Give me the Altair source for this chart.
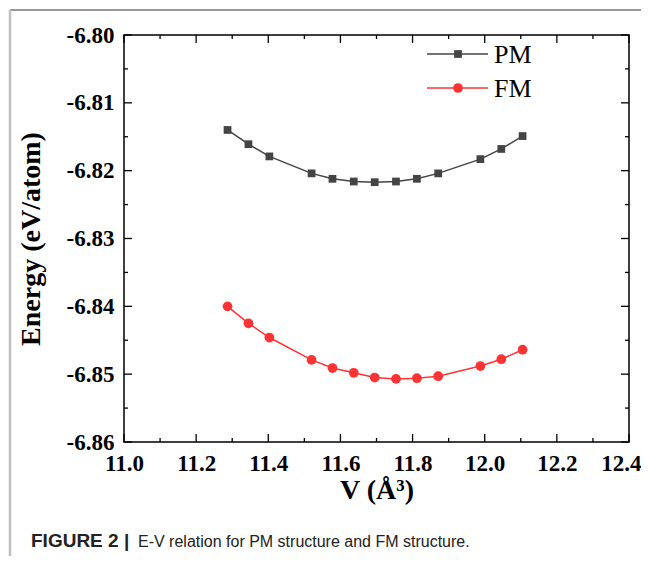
import altair as alt
import pandas as pd

# ---- data ----
V = [11.287, 11.345, 11.403, 11.520, 11.578, 11.637, 11.695, 11.754, 11.812, 11.871, 11.988, 12.046, 12.105]
E_PM = [-6.8140, -6.8161, -6.8179, -6.8204, -6.8212, -6.8216, -6.8217, -6.8216, -6.8212, -6.8204, -6.8183, -6.8168, -6.8149]
E_FM = [-6.8400, -6.8425, -6.8446, -6.8479, -6.8491, -6.8498, -6.8505, -6.8507, -6.8506, -6.8503, -6.8488, -6.8478, -6.8464]
SERIES = ["PM", "FM"]
COLORS = ["#444444", "#ff3333"]
SHAPES = ["square", "circle"]
X_MAJOR = [11.0, 11.2, 11.4, 11.6, 11.8, 12.0, 12.2, 12.4]
X_MINOR = [11.1, 11.3, 11.5, 11.7, 11.9, 12.1, 12.3]
Y_MAJOR = [-6.86, -6.85, -6.84, -6.83, -6.82, -6.81, -6.80]
Y_MINOR = [-6.855, -6.845, -6.835, -6.825, -6.815, -6.805]
X_TITLE = "V (Å³)"
Y_TITLE = "Energy (eV/atom)"
CAPTION_BOLD = "FIGURE 2 |"
CAPTION_TEXT = "E-V relation for PM structure and FM structure."

W, H = 505, 407
SERIF = "Liberation Serif"
SANS = "Liberation Sans"

df = pd.DataFrame({
    "V": V * 2,
    "E": E_PM + E_FM,
    "series": ["PM"] * len(V) + ["FM"] * len(V),
})

xs = alt.Scale(domain=[11.0, 12.4], nice=False, zero=False)
ys = alt.Scale(domain=[-6.86, -6.80], nice=False, zero=False)
cs = alt.Scale(domain=SERIES, range=COLORS)

last_x = "datum.value > 12.35"
x_axis = alt.Axis(values=X_MAJOR, format=".1f", ticks=False, domain=False, grid=False,
                  labelFont=SERIF, labelFontWeight="bold", labelFontSize=23, labelColor="black",
                  labelPadding=10, labelFlush=False,
                  labelAlign={"condition": {"test": last_x, "value": "right"}, "value": "center"},
                  labelOffset={"condition": {"test": last_x, "value": 12}, "value": 0},
                  title=X_TITLE, titleFont=SERIF, titleFontWeight="bold", titleFontSize=28,
                  titleColor="black", titlePadding=1)
y_axis = alt.Axis(values=Y_MAJOR, labelExpr="'-' + format(abs(datum.value), '.2f')",
                  ticks=False, domain=False, grid=False,
                  labelFont=SERIF, labelFontWeight="bold", labelFontSize=23, labelColor="black",
                  labelPadding=10, labelFlush=False,
                  title=Y_TITLE, titleFont=SERIF, titleFontWeight="bold", titleFontSize=28,
                  titleColor="black", titlePadding=21)

base = alt.Chart(df)
line = base.mark_line(strokeWidth=1.5).encode(
    x=alt.X("V:Q", scale=xs, axis=x_axis),
    y=alt.Y("E:Q", scale=ys, axis=y_axis),
    color=alt.Color("series:N", scale=cs, legend=None),
)
pts = base.mark_point(filled=True, opacity=1).encode(
    x="V:Q",
    y="E:Q",
    color=alt.Color("series:N", scale=cs, legend=None),
    shape=alt.Shape("series:N", scale=alt.Scale(domain=SERIES, range=SHAPES), legend=None),
    size=alt.Size("series:N", scale=alt.Scale(domain=SERIES, range=[60, 95]), legend=None),
)


def tick_layer(vals, axis, side, length):
    if axis == "x":
        d = pd.DataFrame({"V": vals})
        c = alt.Chart(d).mark_rule(color="black", strokeWidth=1.3)
        y0 = H if side == "bottom" else 0
        y1 = H - length if side == "bottom" else length
        return c.encode(x=alt.X("V:Q", scale=xs), y=alt.value(y0), y2=alt.value(y1))
    d = pd.DataFrame({"E": vals})
    c = alt.Chart(d).mark_rule(color="black", strokeWidth=1.3)
    x0 = 0 if side == "left" else W
    x1 = length if side == "left" else W - length
    return c.encode(y=alt.Y("E:Q", scale=ys), x=alt.value(x0), x2=alt.value(x1))


tick_layers = []
for side in ["bottom", "top"]:
    tick_layers.append(tick_layer(X_MAJOR, "x", side, 8))
    tick_layers.append(tick_layer(X_MINOR, "x", side, 4))
for side in ["left", "right"]:
    tick_layers.append(tick_layer(Y_MAJOR, "y", side, 8))
    tick_layers.append(tick_layer(Y_MINOR, "y", side, 4))

# legend (drawn in the top-right corner of the plot)
legend_layers = []
LEG_Y = [19, 53]
for s, col, shp, ly in zip(SERIES, COLORS, SHAPES, LEG_Y):
    d = pd.DataFrame({"series": [s]})
    c = alt.Chart(d)
    legend_layers.append(c.mark_rule(color=col, strokeWidth=1.5).encode(
        x=alt.value(303), x2=alt.value(364), y=alt.value(ly)))
    legend_layers.append(c.mark_point(shape=shp, filled=True, opacity=1, color=col,
                                      size=60 if shp == "square" else 95).encode(
        x=alt.value(334), y=alt.value(ly)))
    legend_layers.append(c.mark_text(align="left", baseline="middle", font=SERIF,
                                     fontSize=26, color="black").encode(
        x=alt.value(370), y=alt.value(ly + 1), text="series:N"))

# figure frame + caption
one = pd.DataFrame({"a": [0]})
frame_top = alt.Chart(one).mark_rule(color="#333333", strokeWidth=1).encode(
    x=alt.value(-114), x2=alt.value(530), y=alt.value(-25))
frame_left = alt.Chart(one).mark_rule(color="#c0c0c0", strokeWidth=2.5).encode(
    x=alt.value(-114), y=alt.value(-25), y2=alt.value(530))
cap1 = alt.Chart(pd.DataFrame({"t": [CAPTION_BOLD]})).mark_text(
    align="left", baseline="middle", font=SANS, fontWeight="bold", fontSize=19, color="#222222"
).encode(x=alt.value(-93), y=alt.value(506), text="t:N")
cap2 = alt.Chart(pd.DataFrame({"t": [CAPTION_TEXT]})).mark_text(
    align="left", baseline="middle", font=SANS, fontSize=16, color="#222222"
).encode(x=alt.value(14), y=alt.value(507), text="t:N")

chart = alt.layer(
    frame_top, frame_left, line, pts, *tick_layers, *legend_layers, cap1, cap2
).properties(
    width=W, height=H,
    autosize=alt.AutoSizeParams(type="none"),
    padding={"left": 116, "top": 27, "right": 12, "bottom": 114},
).configure_view(stroke="black", strokeWidth=1.5)

chart.save("out.html", embed_options={"renderer": "svg", "actions": False})
